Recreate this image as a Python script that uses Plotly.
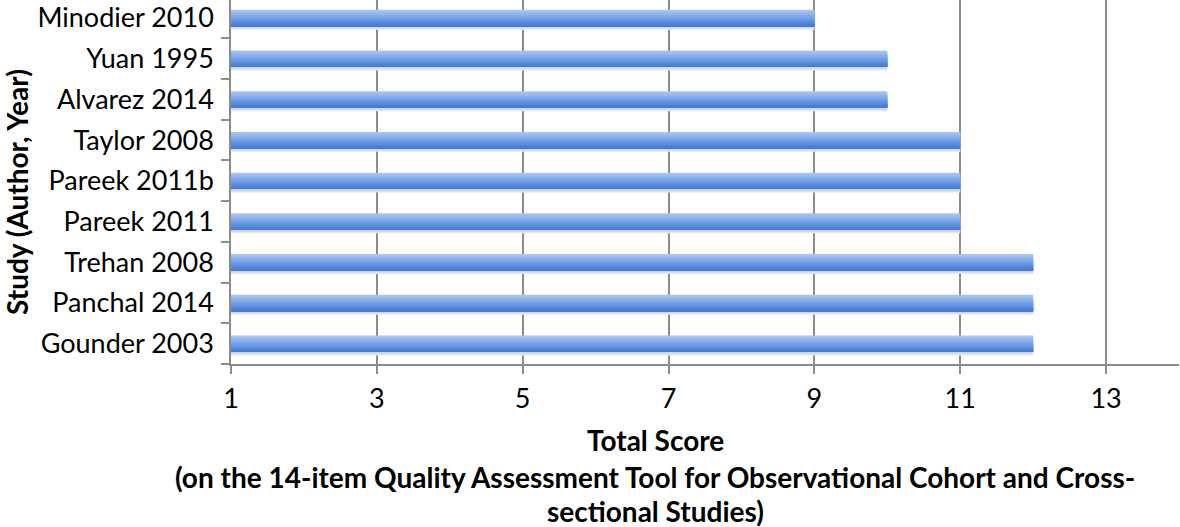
import plotly.graph_objects as go

# studies listed bottom to top, as drawn
STUDIES = ["Gounder 2003", "Panchal 2014", "Trehan 2008", "Pareek 2011",
           "Pareek 2011b", "Taylor 2008", "Alvarez 2014", "Yuan 1995", "Minodier 2010"]
SCORES = [12, 12, 12, 11, 11, 11, 10, 10, 9]
X_TICKS = [1, 3, 5, 7, 9, 11, 13]

FONT = "Lato, 'Open Sans', sans-serif"
W, H = 1180, 527
L, B = 231, 163
PLOT_H = H - B

fig = go.Figure()

# soft shadow under each bar
fig.add_trace(go.Bar(
    x=SCORES, y=STUDIES, orientation="h",
    offset=-0.29, width=0.12, marker_color="#e6e6e6", marker_line_width=0,
    hoverinfo="skip", showlegend=False,
))
fig.add_trace(go.Bar(
    x=SCORES, y=STUDIES, orientation="h",
    offset=-0.25, width=0.08, marker_color="#d4d4d4", marker_line_width=0,
    hoverinfo="skip", showlegend=False,
))

# vertical gradient: each layer covers from the bar bottom up, getting darker
top, mid, bot = (166, 196, 246), (116, 162, 233), (70, 124, 212)
n = 10
for i in range(n):
    t = i / (n - 1)
    if t < 0.5:
        a, b_, f = top, mid, t / 0.5
    else:
        a, b_, f = mid, bot, (t - 0.5) / 0.5
    c = tuple(round(a[k] + (b_[k] - a[k]) * f) for k in range(3))
    w = 0.4 - i * 0.4 / n
    fig.add_trace(go.Bar(
        x=SCORES, y=STUDIES, orientation="h",
        offset=-0.2, width=w,
        marker_color="rgb(%d,%d,%d)" % c, marker_line_width=0,
        showlegend=False,
        hovertemplate="%{y}: %{x}<extra></extra>",
    ))

fig.update_layout(
    width=W, height=H,
    barmode="overlay",
    plot_bgcolor="white", paper_bgcolor="white",
    margin=dict(l=L, r=1, t=0, b=B),
    font=dict(family=FONT, size=27, color="black"),
    xaxis=dict(
        range=[1, 14], tickvals=X_TICKS,
        showgrid=True, gridcolor="#8c8c8c", gridwidth=1.5,
        showline=True, linecolor="#8c8c8c", linewidth=1.5,
        ticks="outside", ticklen=8, tickcolor="#8c8c8c", tickwidth=1.5,
        zeroline=False, ticklabelstandoff=2,
    ),
    yaxis=dict(
        range=[-0.5, 8.44], showgrid=False,
        showline=True, linecolor="#8c8c8c", linewidth=1.5,
        ticks="outside", ticklen=8, tickcolor="#8c8c8c", tickwidth=1.5,
        tickson="boundaries", ticklabelstandoff=10,
    ),
)

# axis titles placed as annotations (x title sits left of plot centre)
def px_x(p):
    return (p - L) / (W - L - 1)

def px_y(p):
    return (PLOT_H - p) / PLOT_H

bold = dict(family=FONT, size=28, color="black", weight="bold")
for text, yp in [("Total Score", 440),
                 ("(on the 14-item Quality Assessment Tool for Observational Cohort and Cross-", 477),
                 ("sectional Studies)", 511)]:
    fig.add_annotation(text=text, xref="paper", yref="paper",
                       x=px_x(655), y=px_y(yp), xanchor="center", yanchor="middle",
                       showarrow=False, font=bold)

fig.add_annotation(text="Study (Author, Year)", xref="paper", yref="paper",
                   x=px_x(17), y=px_y(192), xanchor="center", yanchor="middle",
                   textangle=-90, showarrow=False, font=bold)

fig.write_html("out.html", config={"displayModeBar": False},
               post_script="document.body.style.margin='0';")
